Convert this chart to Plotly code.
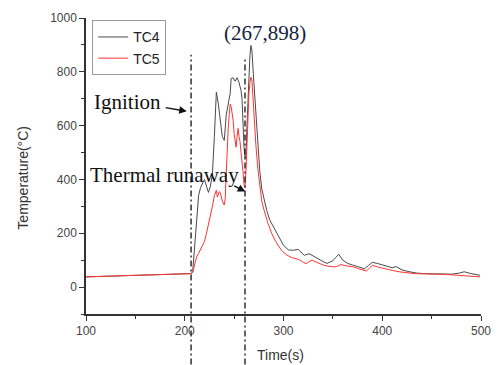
import plotly.graph_objects as go

# ---- data ----
tc4_time = [100, 120, 140, 160, 180, 200, 206, 208, 210, 212, 214, 216, 218, 220, 222, 224, 226, 228,
            230, 232, 234, 236, 238, 240, 242, 244, 246, 247, 249, 251, 253, 255, 257, 258, 259, 260,
            261, 262, 263, 264, 265, 266, 267, 268, 270, 272, 274, 276, 278, 280, 283, 286, 290, 295,
            300, 305, 310, 315, 318, 321, 326, 330, 334, 340, 344, 350, 353, 356, 360, 365, 370, 376,
            382, 386, 390, 395, 400, 405, 410, 414, 420, 426, 435, 443, 455, 463, 470, 478, 483, 490, 499]
tc4_temp = [38, 40, 42, 44, 46, 48, 50, 55, 150, 270, 340, 370, 385, 400, 375, 352, 375, 420,
            560, 725, 680, 610, 560, 545, 640, 680, 720, 775, 778, 765, 778, 760, 730, 700, 600, 520,
            480, 490, 600, 700, 800, 860, 898, 880, 760, 640, 520, 430, 365, 330, 285, 250, 222, 185,
            155, 138, 137, 140, 128, 118, 124, 115, 106, 95, 88, 98, 110, 122, 100, 88, 82, 75,
            68, 80, 92, 88, 82, 78, 72, 76, 64, 58, 52, 50, 50, 49, 48, 52, 57, 50, 44]

tc5_time = [100, 120, 140, 160, 180, 200, 206, 208, 210, 212, 214, 216, 218, 220, 222, 224, 226, 228,
            230, 232, 233, 235, 236, 238, 240, 241, 242, 243, 244, 245, 246, 247, 248, 249, 250, 251,
            252, 253, 254, 255, 256, 257, 258, 259, 260, 261, 262, 263, 264, 265, 266, 267, 268, 269,
            270, 272, 274, 276, 278, 280, 284, 288, 292, 298, 303, 308, 312, 316, 320, 323, 326, 329,
            335, 341, 346, 351, 355, 358, 362, 366, 371, 376, 380, 384, 387, 390, 395, 400, 404, 410,
            417, 425, 433, 445, 456, 465, 476, 490, 499]
tc5_temp = [38, 40, 42, 44, 46, 48, 50, 55, 90, 112, 125, 140, 155, 170, 200, 230, 270, 300,
            340, 360, 335, 355, 350, 320, 305, 330, 420, 520, 590, 640, 680, 670, 650, 620, 570, 540,
            520, 560, 590, 560, 540, 500, 470, 430, 380, 370, 430, 550, 650, 720, 760, 780, 770, 700,
            640, 530, 440, 370, 320, 290, 240, 200, 170, 136, 120, 110, 105, 102, 92, 87, 95, 100,
            90, 81, 77, 75, 78, 84, 80, 77, 75, 68, 63, 60, 70, 81, 75, 70, 68, 62,
            57, 53, 50, 49, 49, 47, 44, 40, 38]

series_names = ["TC4", "TC5"]
event_times = [206.4, 261]           # ignition, thermal runaway
peak_label = "(267,898)"

fig = go.Figure()
fig.add_trace(go.Scatter(x=tc4_time, y=tc4_temp, mode="lines", name=series_names[0],
                         line=dict(color="#4a4a4a", width=1)))
fig.add_trace(go.Scatter(x=tc5_time, y=tc5_temp, mode="lines", name=series_names[1],
                         line=dict(color="#ff3333", width=1)))

# vertical dash-dot event lines
for xv, ytop in zip(event_times, [0.876, 0.869]):
    fig.add_shape(type="line", xref="x", yref="paper", x0=xv, x1=xv, y0=-0.171, y1=ytop,
                  line=dict(color="#222222", width=1.4, dash="6px,3px,2px,3px"), layer="above")

serif = "Liberation Serif, Times New Roman, serif"
annos = [
    dict(x=281.7, y=945, xref="x", yref="y", text=peak_label, showarrow=False,
         font=dict(family=serif, size=21, color="#15233f"), xanchor="center", yanchor="middle"),
    dict(x=142.3, y=686, xref="x", yref="y", text="Ignition", showarrow=False,
         font=dict(family=serif, size=21, color="#111111"), xanchor="center", yanchor="middle"),
    dict(x=179.3, y=417, xref="x", yref="y", text="Thermal runaway", showarrow=False,
         font=dict(family=serif, size=21, color="#111111"), xanchor="center", yanchor="middle"),
    dict(x=202.0, y=653, xref="x", yref="y", text="", showarrow=True, ax=-22.6, ay=-4,
         arrowhead=2, arrowsize=1, arrowwidth=1.5, arrowcolor="#111111", standoff=0),
    dict(x=261.3, y=355, xref="x", yref="y", text="", showarrow=True, ax=-12.6, ay=-6.4,
         arrowhead=2, arrowsize=1, arrowwidth=1.5, arrowcolor="#111111", standoff=0),
    dict(x=-0.16, y=0.46, xref="paper", yref="paper", text="Temperature(°C)", showarrow=False,
         textangle=-90, font=dict(family="Liberation Sans, Arial", size=14, color="#333333"),
         xanchor="center", yanchor="middle"),
    dict(x=0.4935, y=-0.14, xref="paper", yref="paper", text="Time(s)", showarrow=False,
         font=dict(family="Liberation Sans, Arial", size=14, color="#333333"),
         xanchor="center", yanchor="middle"),
]

axis_common = dict(showline=True, linecolor="#333333", linewidth=1.5, ticks="outside",
                   tickcolor="#333333", tickwidth=1, ticklen=5, showgrid=False, zeroline=False,
                   tickfont=dict(family="Liberation Sans, Arial", size=12, color="#444444"))

fig.update_layout(
    width=502, height=365,
    margin=dict(l=86, r=11, t=16, b=51),
    paper_bgcolor="white", plot_bgcolor="white",
    showlegend=True,
    legend=dict(x=0.0156, y=0.992, xanchor="left", yanchor="top",
                bordercolor="#999999", borderwidth=1, bgcolor="white",
                font=dict(family="Liberation Sans, Arial", size=14, color="#222222"),
                tracegroupgap=0),
    annotations=annos,
    xaxis=dict(range=[100, 500], tick0=100, dtick=100,
               minor=dict(ticks="outside", dtick=50, ticklen=3, tickcolor="#333333"),
               **axis_common),
    yaxis=dict(range=[-100, 1000], tick0=0, dtick=200,
               minor=dict(ticks="outside", dtick=100, ticklen=3, tickcolor="#333333"),
               **axis_common),
)

fig.write_html("out.html")
